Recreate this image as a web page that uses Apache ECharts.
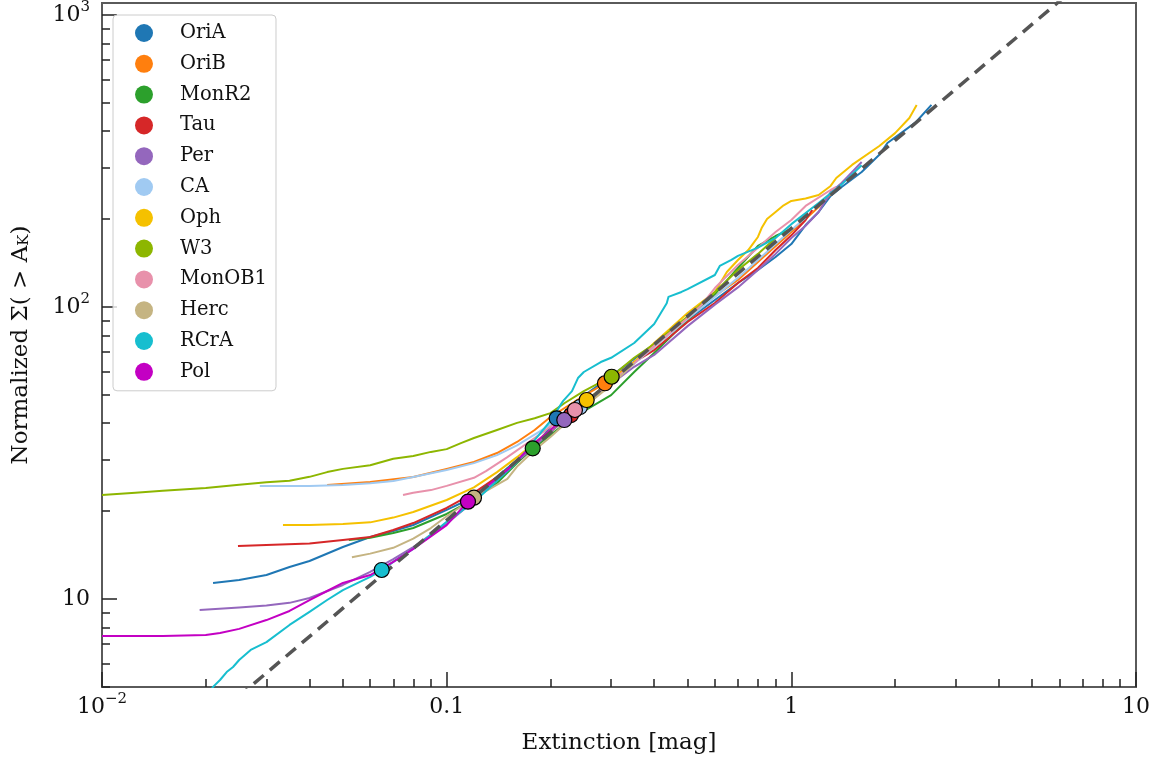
<!DOCTYPE html>
<html><head><meta charset="utf-8">
<script src="https://cdn.jsdelivr.net/npm/echarts@6/dist/echarts.min.js"></script>
<style>html,body{margin:0;padding:0;background:#fff}#c{width:1159px;height:765px}</style>
</head><body><div id="c"></div>
<script>
// ---------------- data ----------------
const regionNames = ['OriA','OriB','MonR2','Tau','Per','CA','Oph','W3','MonOB1','Herc','RCrA','Pol'];
const regionColors = ['#1f77b4','#ff7f0e','#2ca02c','#d62728','#9467bd','#a0caf2','#f5c100','#8db600','#e891ab','#c5b482','#17becf','#c300c3'];

const OriA = [[0.021,11.35],[0.025,11.62],[0.03,12.09],[0.035,12.87],[0.04,13.49],[0.05,15.07],[0.06,16.3],[0.07,17.09],[0.08,17.92],[0.1,20.18],[0.12,22.35],[0.15,28.1],[0.18,33.4],[0.21,41.6],[0.25,49.6],[0.3,58.0],[0.4,74.7],[0.5,90.3],[0.6,105.7],[0.7,120.8],[0.8,133.9],[0.9,148.4],[1.0,164.3],[1.1,190.8],[1.2,211.5],[1.3,240],[1.4,257.6],[1.6,290],[1.8,332],[1.9,364.6],[2.1,397],[2.3,430],[2.55,492]];
const OriB = [[0.045,24.57],[0.06,25.16],[0.08,26.17],[0.1,27.88],[0.12,29.45],[0.14,31.62],[0.16,34.49],[0.18,37.91],[0.2,42.0],[0.25,49.6],[0.288,54.8],[0.35,64.8],[0.4,72.9],[0.5,91.7],[0.6,109.1],[0.7,123.7],[0.8,142.6],[1.0,180.6],[1.2,220],[1.3,243.8],[1.45,276.5]];
const MonR2 = [[0.052,15.92],[0.06,16.2],[0.07,16.83],[0.08,17.5],[0.1,19.55],[0.12,22.0],[0.14,24.97],[0.16,29.2],[0.178,32.8],[0.22,39.7],[0.25,44.0],[0.3,49.9],[0.35,59.9],[0.4,69.6],[0.5,90.3],[0.6,110.7],[0.7,136],[0.8,161.8],[0.9,175],[1.0,185]];
const Tau = [[0.0248,15.19],[0.03,15.3],[0.04,15.5],[0.05,15.92],[0.06,16.3],[0.07,17.23],[0.08,18.2],[0.1,20.5],[0.12,23.1],[0.14,26.17],[0.16,29.45],[0.18,33.68],[0.2,37.3],[0.229,42.7],[0.28,51.5],[0.35,64.8],[0.4,71.2],[0.5,88.9],[0.6,103.2],[0.7,120.8],[0.8,136],[0.9,156.7],[1.0,176],[1.1,198.6],[1.15,214.9]];
const Per = [[0.0192,9.17],[0.025,9.35],[0.03,9.5],[0.035,9.7],[0.04,10.08],[0.05,11.17],[0.06,12.38],[0.07,13.7],[0.08,15.07],[0.1,18.1],[0.12,21.66],[0.15,27.66],[0.18,33.4],[0.219,41.0],[0.25,45.5],[0.3,54.5],[0.35,62.4],[0.4,68.5],[0.5,86.0],[0.6,101.9],[0.7,116.7],[0.8,133.9],[0.9,152],[1.0,172.4],[1.1,189.7],[1.2,211.5],[1.3,247],[1.4,266],[1.6,313.8]];
const CA = [[0.0287,24.4],[0.035,24.4],[0.04,24.4],[0.05,24.57],[0.06,24.9],[0.07,25.36],[0.08,26.17],[0.1,27.66],[0.12,29.2],[0.14,31.1],[0.16,33.6],[0.2,39.5],[0.244,45.45],[0.3,55.0],[0.4,72.9],[0.5,91.0],[0.6,108.3],[0.7,126],[0.8,144.9],[0.9,164.3],[1.0,183.5],[1.1,202.2]];
const Oph = [[0.0335,17.92],[0.04,17.92],[0.05,18.07],[0.06,18.3],[0.07,19.0],[0.08,19.86],[0.1,21.83],[0.12,24.1],[0.14,27.2],[0.16,30.6],[0.2,37.9],[0.255,48.0],[0.3,55.8],[0.35,64.8],[0.4,75.3],[0.5,95.4],[0.6,112.6],[0.65,131.8],[0.7,144.9],[0.75,156.7],[0.78,166.9],[0.8,173.7],[0.82,186.4],[0.85,200.2],[0.9,211.5],[0.95,223],[1.0,230.7],[1.1,235.2],[1.2,242],[1.3,259.8],[1.35,276.5],[1.5,306.6],[1.8,356],[2.0,394],[2.2,444],[2.31,492]];
const W3 = [[0.01,22.7],[0.0125,23.1],[0.015,23.5],[0.02,24.0],[0.025,24.6],[0.03,25.1],[0.035,25.4],[0.04,26.2],[0.045,27.2],[0.05,27.9],[0.06,28.7],[0.07,30.2],[0.08,30.9],[0.09,31.9],[0.1,32.6],[0.11,34.2],[0.12,35.6],[0.14,37.9],[0.16,40.1],[0.18,41.6],[0.2,43.3],[0.22,46.9],[0.25,51.5],[0.3,57.7],[0.35,67.0],[0.4,74.7],[0.5,92.7],[0.6,112.6],[0.7,133.9],[0.8,152],[0.9,172.4]];
const MonOB1 = [[0.0747,22.7],[0.08,23.1],[0.09,23.6],[0.1,24.4],[0.12,26.0],[0.13,27.4],[0.15,30.6],[0.18,35.6],[0.2,38.9],[0.236,44.4],[0.28,52.0],[0.35,64.2],[0.4,73.6],[0.5,91.7],[0.55,101.9],[0.6,116.1],[0.7,139.3],[0.8,159.7],[0.9,180.6],[1.0,198.6],[1.1,221.9],[1.3,251.6],[1.35,257.6]];
const Herc = [[0.0531,13.9],[0.06,14.3],[0.07,14.97],[0.08,16.1],[0.09,17.5],[0.1,19.2],[0.12,22.2],[0.15,25.8],[0.16,28.4],[0.18,32.4],[0.2,35.9],[0.25,45.5],[0.3,54.0],[0.35,64.2]];
const RCrA = [[0.0205,4.8],[0.021,5.0],[0.022,5.28],[0.023,5.62],[0.024,5.85],[0.025,6.18],[0.027,6.69],[0.03,7.12],[0.035,8.15],[0.04,9.03],[0.045,9.92],[0.05,10.73],[0.06,11.9],[0.065,12.57],[0.07,13.4],[0.08,14.85],[0.1,18.4],[0.12,21.5],[0.14,25.4],[0.16,29.45],[0.18,35.0],[0.2,40.7],[0.2175,47.6],[0.231,51.5],[0.2404,57.1],[0.25,59.9],[0.28,64.8],[0.3,67.0],[0.35,75.3],[0.4,87.5],[0.435,103],[0.44,108.3],[0.48,112.6],[0.5,115.2],[0.6,128.7],[0.62,138.2],[0.67,145],[0.7,149.7],[0.8,159.7],[0.9,172.4],[1.0,192.2],[1.2,227],[1.4,263],[1.6,306]];
const Pol = [[0.01,7.47],[0.015,7.47],[0.02,7.53],[0.022,7.65],[0.025,7.9],[0.03,8.47],[0.035,9.1],[0.04,9.92],[0.045,10.65],[0.05,11.35],[0.06,12.08],[0.07,13.4],[0.08,14.85],[0.1,17.9],[0.115,21.5],[0.13,24.2],[0.15,27.66],[0.18,34.2],[0.22,41.7]];

const markerX = [0.2085,0.2879,0.1777,0.2294,0.2194,0.2436,0.2548,0.3011,0.2356,0.1200,0.0648,0.1153];
const markerY = [41.57,54.8,32.81,42.66,41.02,45.45,48.03,57.7,44.39,22.23,12.57,21.54];

const dashX = [0.02, 10];
const dashY = [3.72, 1860];

const xRange = [0.01, 10];
const yRange = [4.996, 1099];
const xMajor = [0.01, 0.1, 1, 10];
const xTickBase = ['10', '0.1', '1', '10'];
const xTickExp = ['\u22122', '', '', ''];
const yMajor = [10, 100, 1000];
const yTickBase = ['10', '10', '10'];
const yTickExp = ['', '2', '3'];
const minorMult = [2,3,4,5,6,7,8,9];

// ---------------- chart ----------------
const curves = [OriA, OriB, MonR2, Tau, Per, CA, Oph, W3, MonOB1, Herc, RCrA, Pol];
const lg = v => Math.log10(v);
const FONT = "'DejaVu Serif', serif";

function minorTicks(majors) {
  const out = [];
  for (let i = 0; i < majors.length - 1; i++) minorMult.forEach(m => out.push(lg(m * majors[i])));
  return out;
}
const yMinorDecades = [1, 10, 100, 1000];
const xMinor = minorTicks(xMajor);
const yMinor = minorTicks(yMinorDecades).filter(v => v > lg(yRange[0]) && v < lg(yRange[1]));

function labelFmt(majors, bases, exps) {
  return function (val) {
    let idx = -1, best = 1e9;
    majors.forEach((m, i) => { const d = Math.abs(lg(m) - val); if (d < best) { best = d; idx = i; } });
    if (idx < 0 || best > 1e-6) return '';
    return '{b|' + bases[idx] + '}' + (exps[idx] ? '{s|' + exps[idx] + '}' : '');
  };
}
const richTick = {
  b: { fontFamily: FONT, fontSize: 22, color: '#111', lineHeight: 30 },
  s: { fontFamily: FONT, fontSize: 15, color: '#111', verticalAlign: 'top', lineHeight: 15 }
};
const tickStyle = { color: '#222', width: 1.5 };
const lineAxis = { show: true, onZero: false, lineStyle: { color: '#5a5a5a', width: 2 } };

const series = curves.map((c, i) => ({
  type: 'line', name: regionNames[i],
  data: c.map(p => [lg(p[0]), lg(p[1])]),
  symbol: 'none', showSymbol: false, clip: true, z: 2,
  lineStyle: { color: regionColors[i], width: 2, join: 'round' },
  itemStyle: { color: regionColors[i] },
  emphasis: { disabled: true }
}));
series.push({
  type: 'line', name: 'fit',
  data: dashX.map((x, i) => [lg(x), lg(dashY[i])]),
  symbol: 'none', clip: true, z: 3,
  lineStyle: { color: '#555', width: 3.5, type: [13, 8] },
  emphasis: { disabled: true }
});
series.push({
  type: 'scatter', name: 'markers',
  data: markerX.map((x, i) => ({ value: [lg(x), lg(markerY[i])], itemStyle: { color: regionColors[i] } })),
  symbolSize: 15, z: 4,
  itemStyle: { borderColor: '#000', borderWidth: 1.2, opacity: 1 },
  emphasis: { disabled: true }
});

const option = {
  animation: false,
  backgroundColor: '#fff',
  grid: { left: 102, right: 23, top: 3, bottom: 78, show: true, borderColor: '#5a5a5a', borderWidth: 2, backgroundColor: 'transparent' },
  legend: {
    orient: 'vertical', left: 113, top: 15,
    padding: [8, 9, 9, 22],
    itemWidth: 18, itemHeight: 18, itemGap: 10.8,
    icon: 'circle', selectedMode: false,
    backgroundColor: 'rgba(255,255,255,0.8)', borderColor: '#cccccc', borderWidth: 1, borderRadius: 4,
    textStyle: { fontFamily: FONT, fontSize: 19.5, color: '#111', padding: [0, 0, 0, 22], lineHeight: 18 },
    data: regionNames.map(n => ({ name: n, icon: 'circle' }))
  },
  xAxis: [
    {
      type: 'value', min: lg(xRange[0]), max: lg(xRange[1]), position: 'bottom',
      axisLine: lineAxis,
      axisTick: { show: true, inside: true, length: 15, customValues: xMajor.map(lg), lineStyle: tickStyle },
      axisLabel: { show: true, customValues: xMajor.map(lg), margin: 5, formatter: labelFmt(xMajor, xTickBase, xTickExp), rich: richTick },
      splitLine: { show: false },
      name: 'Extinction [mag]', nameLocation: 'middle', nameGap: 45,
      nameTextStyle: { fontFamily: FONT, fontSize: 23, color: '#111' }
    },
    {
      type: 'value', min: lg(xRange[0]), max: lg(xRange[1]), position: 'bottom',
      axisLine: { show: false, onZero: false },
      axisTick: { show: true, inside: true, length: 8, customValues: xMinor, lineStyle: tickStyle },
      axisLabel: { show: false }, splitLine: { show: false }
    }
  ],
  yAxis: [
    {
      type: 'value', min: lg(yRange[0]), max: lg(yRange[1]), position: 'left',
      axisLine: lineAxis,
      axisTick: { show: true, inside: true, length: 15, customValues: yMajor.map(lg), lineStyle: tickStyle },
      axisLabel: { show: true, customValues: yMajor.map(lg), margin: 12, formatter: labelFmt(yMajor, yTickBase, yTickExp), rich: richTick },
      splitLine: { show: false },
      name: '{n|Normalized \u03A3( > A}{k|K}{n|)}', nameLocation: 'middle', nameGap: 66, nameRotate: 90,
      nameTextStyle: { rich: {
        n: { fontFamily: FONT, fontSize: 23, color: '#111', lineHeight: 30 },
        k: { fontFamily: FONT, fontSize: 15, color: '#111', verticalAlign: 'bottom', lineHeight: 15, padding: [0, 0, 4, 0] }
      } }
    },
    {
      type: 'value', min: lg(yRange[0]), max: lg(yRange[1]), position: 'left',
      axisLine: { show: false, onZero: false },
      axisTick: { show: true, inside: true, length: 8, customValues: yMinor, lineStyle: tickStyle },
      axisLabel: { show: false }, splitLine: { show: false }
    }
  ],
  series: series
};
series.forEach(s => { s.xAxisIndex = 0; s.yAxisIndex = 0; });
const chart = echarts.init(document.getElementById('c'), null, { renderer: 'canvas' });
chart.setOption(option);
</script>
</body></html>
